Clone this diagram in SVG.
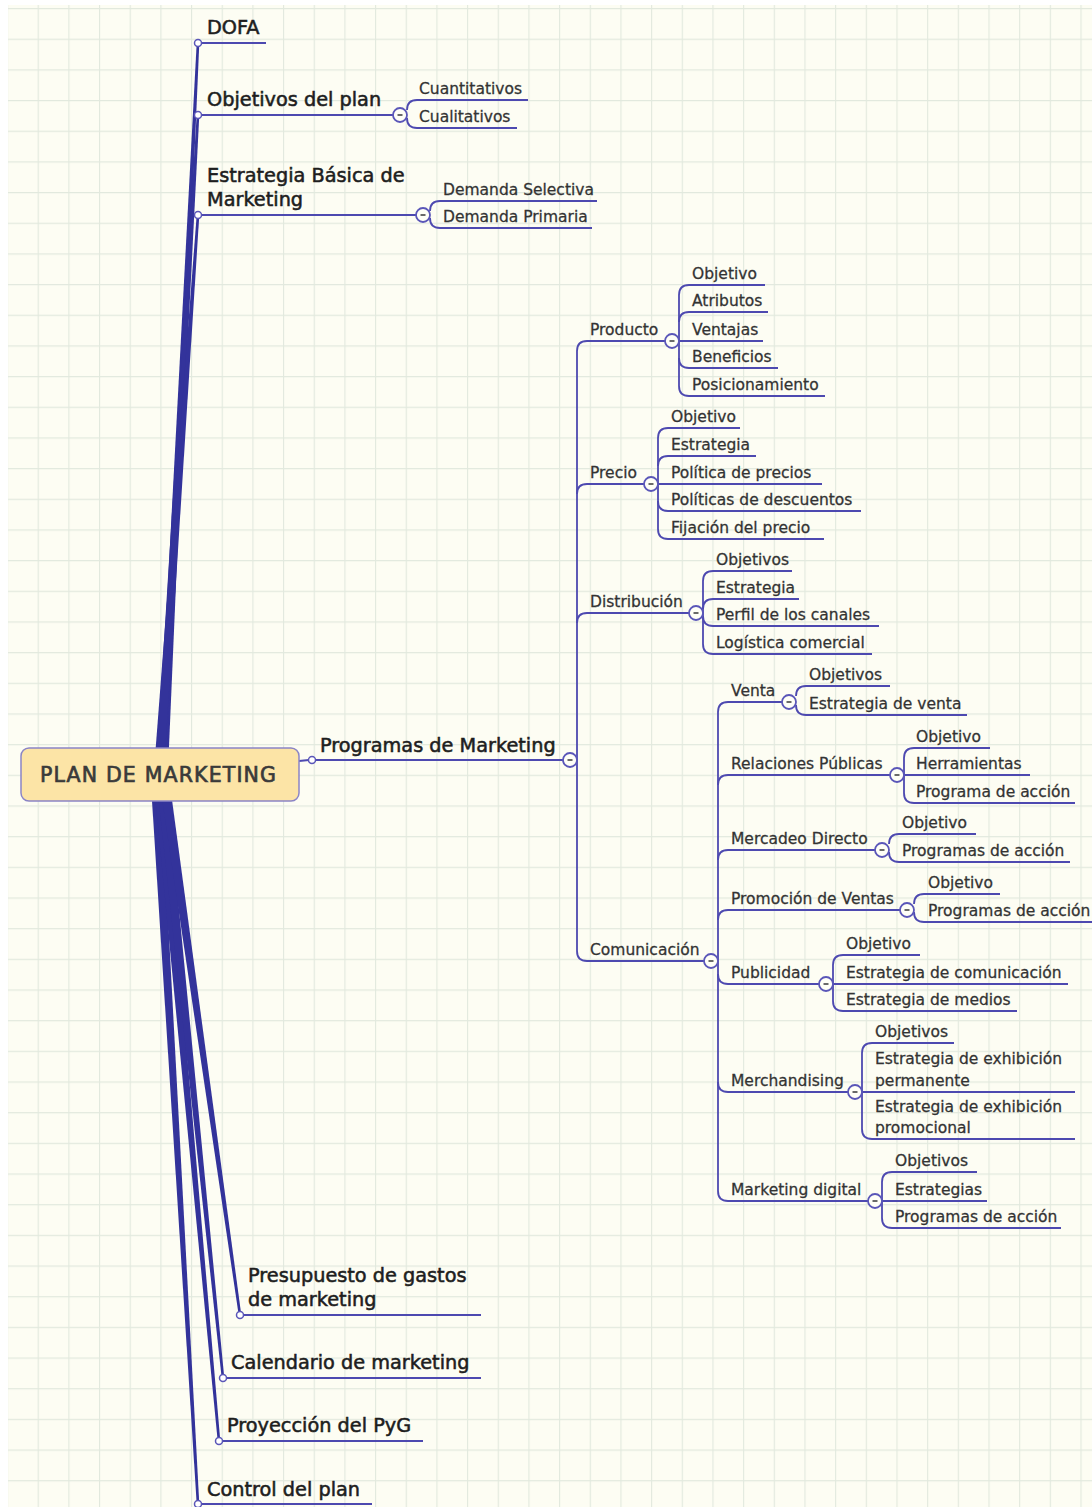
<svg xmlns="http://www.w3.org/2000/svg" width="1092" height="1507" viewBox="0 0 1092 1507">
  <defs>
    <pattern id="grid" x="7" y="8" width="30.67" height="30.67" patternUnits="userSpaceOnUse">
      <path d="M0 0.5H30.67M0.5 0V30.67" fill="none" stroke="#e2e9de" stroke-width="1.3"/>
    </pattern>
    <style>
      .t1 { font-family: "DejaVu Sans", "Liberation Sans", sans-serif; font-size: 19.3px; fill: #1e1e1e; stroke: #1e1e1e; stroke-width: 0.55px; }
      .t2 { font-family: "DejaVu Sans", "Liberation Sans", sans-serif; font-size: 15.5px; fill: #333; stroke: #333; stroke-width: 0.28px; }
      .root { font-family: "DejaVu Sans", "Liberation Sans", sans-serif; font-size: 20.5px; fill: #3a3a3a; stroke: #3a3a3a; stroke-width: 0.7px; }
      .ln { fill: none; stroke: #4d49b0; stroke-width: 1.8; }
      .trunk { fill: #33339b; }
      .dot { fill: #ffffff; stroke: #5a56b8; stroke-width: 1.5; }
      .col circle { fill: #fffff7; stroke: #5a56b8; stroke-width: 1.8; }
      .col line { stroke: #444; stroke-width: 1.6; }
    </style>
  </defs>

  <!-- paper -->
  <rect x="0" y="0" width="1092" height="1507" fill="#ffffff"/>
  <rect x="8" y="5" width="1084" height="1502" fill="#fdfdf3"/>
  <rect x="8" y="5" width="1084" height="1502" fill="url(#grid)"/>

  <!-- connectors -->
  <g id="connectors">
    <!-- tapered main branches from the central topic -->
    <g id="trunks">
      <path class="trunk" d="M158,770 L196.7,43 L199.3,43 L168,770Z"/>
      <path class="trunk" d="M156,770 L196.7,115 L199.3,115 L166,770Z"/>
      <path class="trunk" d="M154,770 L196.7,215 L199.3,215 L164,770Z"/>
      <path class="trunk" d="M151,785 L196.7,1504 L199.3,1504 L161,785Z"/>
      <path class="trunk" d="M154,785 L217.7,1441 L220.3,1441 L164,785Z"/>
      <path class="trunk" d="M157,785 L221.7,1378 L224.3,1378 L167,785Z"/>
      <path class="trunk" d="M160,785 L238.7,1315 L241.3,1315 L170,785Z"/>
    </g>

    <!-- first level underlines -->
    <path class="ln" d="M198,43H266"/>
    <path class="ln" d="M198,115H393"/>
    <path class="ln" d="M198,215H416"/>
    <path class="ln" d="M299,761L309,760M315.5,760H563"/>
    <path class="ln" d="M240,1315H481"/>
    <path class="ln" d="M223,1378H481"/>
    <path class="ln" d="M219,1441H423"/>
    <path class="ln" d="M198,1504H372"/>

    <!-- Objetivos del plan -->
    <path class="ln" d="M407,110Q407,100 417,100H528M407,118Q407,128 417,128H517"/>
    <!-- Estrategia basica -->
    <path class="ln" d="M430,211Q430,201 440,201H597M430,218Q430,228 440,228H592"/>

    <!-- Programas de Marketing -->
    <path class="ln" d="M577,351V951"/>
    <path class="ln" d="M577,351Q577,341 587,341H665"/>
    <path class="ln" d="M577,494Q577,484 587,484H644"/>
    <path class="ln" d="M577,623Q577,613 587,613H689"/>
    <path class="ln" d="M577,951Q577,961 587,961H704"/>

    <!-- Producto -->
    <path class="ln" d="M679,295V386"/>
    <path class="ln" d="M679,295Q679,285 689,285H765M679,322Q679,312 689,312H768M679,341H763M679,358Q679,368 689,368H778M679,386Q679,396 689,396H825"/>
    <!-- Precio -->
    <path class="ln" d="M658,438V529"/>
    <path class="ln" d="M658,438Q658,428 668,428H740M658,466Q658,456 668,456H756M658,484H822M658,501Q658,511 668,511H861M658,529Q658,539 668,539H824"/>
    <!-- Distribucion -->
    <path class="ln" d="M703,581V644"/>
    <path class="ln" d="M703,581Q703,571 713,571H792M703,609Q703,599 713,599H799M703,616Q703,626 713,626H879M703,644Q703,654 713,654H872"/>

    <!-- Comunicacion -->
    <path class="ln" d="M718,712V1191"/>
    <path class="ln" d="M718,712Q718,702 728,702H782"/>
    <path class="ln" d="M718,785Q718,775 728,775H890"/>
    <path class="ln" d="M718,860Q718,850 728,850H875"/>
    <path class="ln" d="M718,920Q718,910 728,910H900"/>
    <path class="ln" d="M718,974Q718,984 728,984H819"/>
    <path class="ln" d="M718,1082Q718,1092 728,1092H848"/>
    <path class="ln" d="M718,1191Q718,1201 728,1201H868"/>

    <!-- Venta -->
    <path class="ln" d="M796,696Q796,686 806,686H890M796,705Q796,715 806,715H967"/>
    <!-- Relaciones Publicas -->
    <path class="ln" d="M904,758V793"/>
    <path class="ln" d="M904,758Q904,748 914,748H990M904,775H1030M904,793Q904,803 914,803H1075"/>
    <!-- Mercadeo Directo -->
    <path class="ln" d="M889,844Q889,834 899,834H976M889,852Q889,862 899,862H1070"/>
    <!-- Promocion de Ventas -->
    <path class="ln" d="M914,904Q914,894 924,894H1000M914,912Q914,922 924,922H1092"/>
    <!-- Publicidad -->
    <path class="ln" d="M833,965V1001"/>
    <path class="ln" d="M833,965Q833,955 843,955H920M833,984H1068M833,1001Q833,1011 843,1011H1017"/>
    <!-- Merchandising -->
    <path class="ln" d="M862,1053V1129"/>
    <path class="ln" d="M862,1053Q862,1043 872,1043H954M862,1092H1075M862,1129Q862,1139 872,1139H1075"/>
    <!-- Marketing digital -->
    <path class="ln" d="M882,1182V1218"/>
    <path class="ln" d="M882,1182Q882,1172 892,1172H977M882,1201H987M882,1218Q882,1228 892,1228H1061"/>

    <!-- branch end dots -->
    <circle class="dot" cx="198" cy="43" r="3.5"/>
    <circle class="dot" cx="198" cy="115" r="3.5"/>
    <circle class="dot" cx="198" cy="215" r="3.5"/>
    <circle class="dot" cx="312" cy="760" r="3.5"/>
    <circle class="dot" cx="240" cy="1315" r="3.5"/>
    <circle class="dot" cx="223" cy="1378" r="3.5"/>
    <circle class="dot" cx="219" cy="1441" r="3.5"/>
    <circle class="dot" cx="198" cy="1504" r="3.5"/>

    <!-- collapse buttons -->
    <g class="col">
      <circle cx="400" cy="115" r="7"/><line x1="397.5" y1="115" x2="402.5" y2="115"/>
      <circle cx="423" cy="215" r="7"/><line x1="420.5" y1="215" x2="425.5" y2="215"/>
      <circle cx="570" cy="760" r="7"/><line x1="567.5" y1="760" x2="572.5" y2="760"/>
      <circle cx="672" cy="341" r="7"/><line x1="669.5" y1="341" x2="674.5" y2="341"/>
      <circle cx="651" cy="484" r="7"/><line x1="648.5" y1="484" x2="653.5" y2="484"/>
      <circle cx="696" cy="613" r="7"/><line x1="693.5" y1="613" x2="698.5" y2="613"/>
      <circle cx="711" cy="961" r="7"/><line x1="708.5" y1="961" x2="713.5" y2="961"/>
      <circle cx="789" cy="702" r="7"/><line x1="786.5" y1="702" x2="791.5" y2="702"/>
      <circle cx="897" cy="775" r="7"/><line x1="894.5" y1="775" x2="899.5" y2="775"/>
      <circle cx="882" cy="850" r="7"/><line x1="879.5" y1="850" x2="884.5" y2="850"/>
      <circle cx="907" cy="910" r="7"/><line x1="904.5" y1="910" x2="909.5" y2="910"/>
      <circle cx="826" cy="984" r="7"/><line x1="823.5" y1="984" x2="828.5" y2="984"/>
      <circle cx="855" cy="1092" r="7"/><line x1="852.5" y1="1092" x2="857.5" y2="1092"/>
      <circle cx="875" cy="1201" r="7"/><line x1="872.5" y1="1201" x2="877.5" y2="1201"/>
    </g>
  </g>

  <!-- central topic -->
  <g id="plan-de-marketing">
    <rect x="21" y="748" width="278" height="53" rx="8" fill="#fce4a6" stroke="#8a84c6" stroke-width="1.5"/>
    <text class="root" x="40" y="782" textLength="236">PLAN DE MARKETING</text>
  </g>

  <!-- main topics -->
  <g id="dofa"><text class="t1" x="207" y="34">DOFA</text></g>
  <g id="objetivos-del-plan"><text class="t1" x="207" y="106">Objetivos del plan</text></g>
  <g id="estrategia-basica"><text class="t1" x="207" y="182">Estrategia Básica de</text><text class="t1" x="207" y="206">Marketing</text></g>
  <g id="programas-de-marketing"><text class="t1" x="320" y="752">Programas de Marketing</text></g>
  <g id="presupuesto"><text class="t1" x="248" y="1282">Presupuesto de gastos</text><text class="t1" x="248" y="1306">de marketing</text></g>
  <g id="calendario"><text class="t1" x="231" y="1369">Calendario de marketing</text></g>
  <g id="proyeccion"><text class="t1" x="227" y="1432">Proyección del PyG</text></g>
  <g id="control"><text class="t1" x="207" y="1496">Control del plan</text></g>

  <!-- Objetivos del plan subtopics -->
  <g id="cuantitativos"><text class="t2" x="419" y="93.5">Cuantitativos</text></g>
  <g id="cualitativos"><text class="t2" x="419" y="121.5">Cualitativos</text></g>
  <!-- Estrategia basica subtopics -->
  <g id="demanda-selectiva"><text class="t2" x="443" y="194.5">Demanda Selectiva</text></g>
  <g id="demanda-primaria"><text class="t2" x="443" y="221.5">Demanda Primaria</text></g>

  <!-- Programas subtopics -->
  <g id="producto"><text class="t2" x="590" y="334.5">Producto</text></g>
  <g id="precio"><text class="t2" x="590" y="477.5">Precio</text></g>
  <g id="distribucion"><text class="t2" x="590" y="606.5">Distribución</text></g>
  <g id="comunicacion"><text class="t2" x="590" y="954.5">Comunicación</text></g>

  <g id="producto-items">
    <text class="t2" x="692" y="278.5">Objetivo</text>
    <text class="t2" x="692" y="305.5">Atributos</text>
    <text class="t2" x="692" y="334.5">Ventajas</text>
    <text class="t2" x="692" y="361.5">Beneficios</text>
    <text class="t2" x="692" y="389.5">Posicionamiento</text>
  </g>
  <g id="precio-items">
    <text class="t2" x="671" y="421.5">Objetivo</text>
    <text class="t2" x="671" y="449.5">Estrategia</text>
    <text class="t2" x="671" y="477.5">Política de precios</text>
    <text class="t2" x="671" y="504.5">Políticas de descuentos</text>
    <text class="t2" x="671" y="532.5">Fijación del precio</text>
  </g>
  <g id="distribucion-items">
    <text class="t2" x="716" y="564.5">Objetivos</text>
    <text class="t2" x="716" y="592.5">Estrategia</text>
    <text class="t2" x="716" y="619.5">Perfil de los canales</text>
    <text class="t2" x="716" y="647.5">Logística comercial</text>
  </g>

  <!-- Comunicacion subtopics -->
  <g id="venta"><text class="t2" x="731" y="695.5">Venta</text></g>
  <g id="relaciones-publicas"><text class="t2" x="731" y="768.5">Relaciones Públicas</text></g>
  <g id="mercadeo-directo"><text class="t2" x="731" y="843.5">Mercadeo Directo</text></g>
  <g id="promocion-de-ventas"><text class="t2" x="731" y="903.5">Promoción de Ventas</text></g>
  <g id="publicidad"><text class="t2" x="731" y="977.5">Publicidad</text></g>
  <g id="merchandising"><text class="t2" x="731" y="1085.5">Merchandising</text></g>
  <g id="marketing-digital"><text class="t2" x="731" y="1194.5">Marketing digital</text></g>

  <g id="venta-items">
    <text class="t2" x="809" y="679.5">Objetivos</text>
    <text class="t2" x="809" y="708.5">Estrategia de venta</text>
  </g>
  <g id="relaciones-items">
    <text class="t2" x="916" y="741.5">Objetivo</text>
    <text class="t2" x="916" y="768.5">Herramientas</text>
    <text class="t2" x="916" y="796.5">Programa de acción</text>
  </g>
  <g id="mercadeo-items">
    <text class="t2" x="902" y="827.5">Objetivo</text>
    <text class="t2" x="902" y="855.5">Programas de acción</text>
  </g>
  <g id="promocion-items">
    <text class="t2" x="928" y="887.5">Objetivo</text>
    <text class="t2" x="928" y="915.5">Programas de acción</text>
  </g>
  <g id="publicidad-items">
    <text class="t2" x="846" y="948.5">Objetivo</text>
    <text class="t2" x="846" y="977.5">Estrategia de comunicación</text>
    <text class="t2" x="846" y="1004.5">Estrategia de medios</text>
  </g>
  <g id="merchandising-items">
    <text class="t2" x="875" y="1036.5">Objetivos</text>
    <text class="t2" x="875" y="1064">Estrategia de exhibición</text>
    <text class="t2" x="875" y="1085.5">permanente</text>
    <text class="t2" x="875" y="1112">Estrategia de exhibición</text>
    <text class="t2" x="875" y="1132.5">promocional</text>
  </g>
  <g id="marketing-digital-items">
    <text class="t2" x="895" y="1165.5">Objetivos</text>
    <text class="t2" x="895" y="1194.5">Estrategias</text>
    <text class="t2" x="895" y="1221.5">Programas de acción</text>
  </g>
</svg>
